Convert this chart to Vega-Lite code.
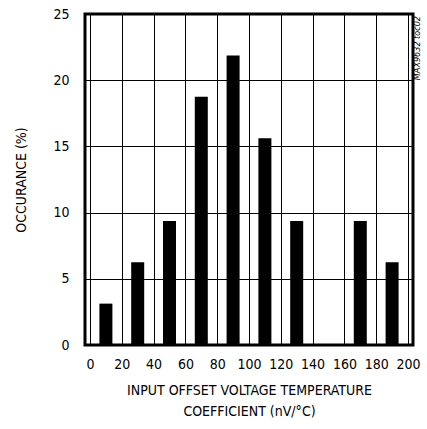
{
  "$schema": "https://vega.github.io/schema/vega-lite/v6.json",
  "width": 328,
  "height": 331,
  "autosize": {"type": "none"},
  "padding": {"left": 85, "top": 14, "right": 14, "bottom": 84},
  "config": {
    "font": "DejaVu Sans Condensed, sans-serif",
    "view": {"stroke": "#000", "strokeWidth": 3},
    "axis": {
      "domain": false,
      "ticks": false,
      "grid": true,
      "gridColor": "#000",
      "gridOpacity": 1,
      "gridWidth": 1,
      "labelColor": "#000",
      "titleColor": "#000",
      "labelFontSize": 14,
      "titleFontSize": 14,
      "titleFontWeight": "normal",
      "labelOverlap": false,
      "labelFont": "DejaVu Sans Condensed, sans-serif",
      "titleFont": "DejaVu Sans Condensed, sans-serif"
    }
  },
  "data": {
    "values": [
      {"coef": 10, "pct": 3.125},
      {"coef": 30, "pct": 6.25},
      {"coef": 50, "pct": 9.375},
      {"coef": 70, "pct": 18.75},
      {"coef": 90, "pct": 21.875},
      {"coef": 110, "pct": 15.625},
      {"coef": 130, "pct": 9.375},
      {"coef": 150, "pct": 0},
      {"coef": 170, "pct": 9.375},
      {"coef": 190, "pct": 6.25}
    ]
  },
  "layer": [
    {
      "mark": {"type": "bar", "orient": "vertical", "size": 13, "color": "#000"},
      "encoding": {
        "x": {
          "field": "coef",
          "type": "quantitative",
          "scale": {"domain": [0, 200], "nice": false},
          "axis": {
            "values": [0, 20, 40, 60, 80, 100, 120, 140, 160, 180, 200],
            "labelPadding": 12,
            "labelFlush": false,
            "labelOverlap": false,
            "title": ["INPUT OFFSET VOLTAGE TEMPERATURE", "COEFFICIENT (nV/°C)"],
            "titlePadding": 12,
            "titleLineHeight": 21
          }
        },
        "y": {
          "field": "pct",
          "type": "quantitative",
          "scale": {"domain": [0, 25], "nice": false},
          "axis": {
            "values": [0, 5, 10, 15, 20, 25],
            "labelPadding": 16,
            "labelFlush": false,
            "title": "OCCURANCE (%)",
            "titlePadding": 24
          }
        }
      }
    },
    {
      "data": {"values": [{"label": "MAX9632 toc02"}]},
      "mark": {
        "type": "text",
        "angle": 270,
        "align": "right",
        "baseline": "top",
        "dx": -2,
        "dy": 5,
        "fontSize": 9,
        "fontStyle": "italic",
        "color": "#000"
      },
      "encoding": {
        "text": {"field": "label"},
        "x": {
          "datum": 200,
          "type": "quantitative",
          "axis": {
            "values": [0, 20, 40, 60, 80, 100, 120, 140, 160, 180, 200],
            "labelPadding": 12,
            "labelFlush": false,
            "labelOverlap": false,
            "title": ["INPUT OFFSET VOLTAGE TEMPERATURE", "COEFFICIENT (nV/°C)"],
            "titlePadding": 12,
            "titleLineHeight": 21
          }
        },
        "y": {
          "datum": 25,
          "type": "quantitative",
          "axis": {
            "values": [0, 5, 10, 15, 20, 25],
            "labelPadding": 16,
            "labelFlush": false,
            "title": "OCCURANCE (%)",
            "titlePadding": 24
          }
        }
      }
    }
  ]
}
